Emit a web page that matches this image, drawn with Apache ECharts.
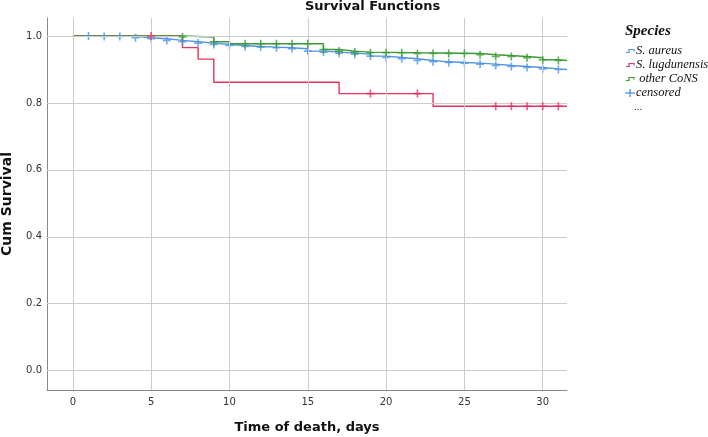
<!DOCTYPE html>
<html>
<head>
<meta charset="utf-8">
<script src="https://cdn.jsdelivr.net/npm/echarts@6/dist/echarts.min.js"></script>
<style>html,body{margin:0;padding:0;background:#fff;}#chart{width:708px;height:437px;}</style>
</head>
<body>
<div id="chart"></div>
<script>
// ---- data ----
const xTicks = [0, 5, 10, 15, 20, 25, 30];
const yTicks = [0.0, 0.2, 0.4, 0.6, 0.8, 1.0];
const seriesNames = ['S. aureus', 'S. lugdunensis', 'other CoNS'];

// S. aureus step curve (time, survival)
const aureusTimes = [0, 2, 4, 5, 6, 7, 8, 9, 10, 11, 12, 13, 14, 15, 16, 17, 18, 19, 20, 21, 22, 23, 24, 25, 26, 27, 28, 29, 30, 31, 31.55];
const aureusSurv  = [1.0, 0.999, 0.995, 0.992, 0.987, 0.983, 0.979, 0.975, 0.972, 0.969, 0.967, 0.965, 0.962, 0.955, 0.952, 0.949, 0.946, 0.940, 0.936, 0.932, 0.927, 0.923, 0.921, 0.919, 0.916, 0.912, 0.909, 0.906, 0.902, 0.900, 0.900];
const aureusCensored = [1, 2, 3, 4, 5, 6, 7, 8, 9, 10, 11, 12, 13, 14, 15, 16, 17, 18, 19, 20, 21, 22, 23, 24, 25, 26, 27, 28, 29, 30, 31];

// S. lugdunensis
const lugdTimes = [0, 7, 8, 9, 17, 23, 31.55];
const lugdSurv  = [1.0, 0.9655, 0.931, 0.862, 0.828, 0.790, 0.790];
const lugdCensored = [5, 19, 22, 27, 28, 29, 30, 31];

// other CoNS
const consTimes = [0, 7, 9, 10, 16, 17, 18, 19, 22, 26, 27, 29, 30, 31, 31.55];
const consSurv  = [1.0, 0.997, 0.983, 0.977, 0.960, 0.955, 0.952, 0.950, 0.948, 0.944, 0.939, 0.935, 0.929, 0.927, 0.927];
const consCensored = [7, 9, 11, 12, 13, 14, 15, 16, 17, 18, 19, 20, 21, 22, 23, 24, 25, 26, 27, 28, 29, 30, 31];

// ---- build ----
const COL_BLUE = '#4f93e6', COL_RED = '#e8325a', COL_GREEN = '#3a9a33';
function zip(a, b) { return a.map((v, i) => [v, b[i]]); }
function survAt(times, surv, t) {
  let v = surv[0];
  for (let i = 0; i < times.length; i++) { if (times[i] <= t) v = surv[i]; }
  return v;
}
const plus = 'path://M0,4H10V6H0Z M4,0H6V10H4Z';
function curve(name, times, surv, color) {
  return { name, type: 'line', step: 'end', data: zip(times, surv), symbol: 'none',
    lineStyle: { color, width: 1.4 }, itemStyle: { color }, z: 3, silent: true };
}
function marks(times, surv, cens, color, z) {
  return { type: 'scatter', data: cens.map(t => [t, survAt(times, surv, t)]), symbol: plus,
    symbolSize: [8, 8], itemStyle: { color }, z, silent: true };
}
const gridColor = '#cccccc';
const gridSeries = {
  type: 'line', data: [], silent: true, z: 1,
  markLine: { silent: true, symbol: 'none', label: { show: false },
    lineStyle: { color: gridColor, width: 1, type: 'solid' },
    data: xTicks.map(v => ({ xAxis: v })).concat(yTicks.map(v => ({ yAxis: v }))) }
};

const serifItalic = 'italic 12.5px "Liberation Serif", "DejaVu Serif", serif';
function legendItem(y, color, label, dx) {
  return [
    { type: 'polyline', shape: { points: [[626, y + 1.5], [629, y + 1.5], [629, y - 1.5], [634, y - 1.5], [634, y + 0.5]] },
      style: { stroke: color, fill: null, lineWidth: 1.2 } },
    { type: 'text', x: 636 + (dx || 0), y, style: { text: label, font: serifItalic, fill: '#111', textVerticalAlign: 'middle' } }
  ];
}
const legendGraphics = [
  { type: 'text', x: 625, y: 31, style: { text: 'Species', font: 'italic bold 15px "Liberation Serif", serif', fill: '#111', textVerticalAlign: 'middle' } },
  ...legendItem(51, COL_BLUE, seriesNames[0]),
  ...legendItem(65, COL_RED, seriesNames[1]),
  ...legendItem(79, COL_GREEN, ' ' + seriesNames[2]),
  { type: 'rect', shape: { x: 625, y: 92.3, width: 10, height: 1.3 }, style: { fill: COL_BLUE } },
  { type: 'rect', shape: { x: 629.4, y: 89, width: 1.3, height: 8 }, style: { fill: COL_BLUE } },
  { type: 'text', x: 636, y: 93, style: { text: 'censored', font: serifItalic, fill: '#111', textVerticalAlign: 'middle' } },
  { type: 'text', x: 634, y: 107, style: { text: '...', font: '11px "Liberation Serif", serif', fill: '#333', textVerticalAlign: 'middle' } }
];

const chart = echarts.init(document.getElementById('chart'), null, { renderer: 'canvas' });
chart.setOption({
  animation: false,
  backgroundColor: '#ffffff',
  title: { text: 'Survival Functions', left: 305, top: 0, padding: 0,
    textStyle: { fontFamily: 'DejaVu Sans', fontWeight: 'bold', fontSize: 13, color: '#111' } },
  grid: { left: 47, right: 141, top: 18, bottom: 47, containLabel: false, outerBoundsMode: 'none' },
  xAxis: {
    type: 'value', min: -1.65, max: 31.55,
    name: 'Time of death, days', nameLocation: 'middle', nameGap: 31,
    nameTextStyle: { fontFamily: 'DejaVu Sans', fontWeight: 'bold', fontSize: 13, color: '#111' },
    axisLine: { show: true, onZero: false, lineStyle: { color: '#888', width: 1 } },
    axisTick: { show: false, customValues: xTicks },
    axisLabel: { customValues: xTicks, fontFamily: 'DejaVu Sans', fontSize: 10, color: '#333', margin: 7 },
    splitLine: { show: false }
  },
  yAxis: {
    type: 'value', min: -0.058, max: 1.054,
    name: 'Cum Survival', nameLocation: 'middle', nameGap: 33, nameRotate: 90,
    nameTextStyle: { fontFamily: 'DejaVu Sans', fontWeight: 'bold', fontSize: 14, color: '#111' },
    axisLine: { show: true, onZero: false, lineStyle: { color: '#888', width: 1 } },
    axisTick: { show: false, customValues: yTicks },
    axisLabel: { customValues: yTicks, fontFamily: 'DejaVu Sans', fontSize: 10, color: '#333', margin: 5,
      formatter: v => v.toFixed(1) },
    splitLine: { show: false }
  },
  graphic: legendGraphics,
  series: [
    gridSeries,
    curve(seriesNames[0], aureusTimes, aureusSurv, COL_BLUE),
    curve(seriesNames[1], lugdTimes, lugdSurv, COL_RED),
    curve(seriesNames[2], consTimes, consSurv, COL_GREEN),
    marks(aureusTimes, aureusSurv, aureusCensored, COL_BLUE, 4),
    marks(consTimes, consSurv, consCensored, COL_GREEN, 5),
    marks(lugdTimes, lugdSurv, lugdCensored, COL_RED, 6)
  ]
});
</script>
</body>
</html>
